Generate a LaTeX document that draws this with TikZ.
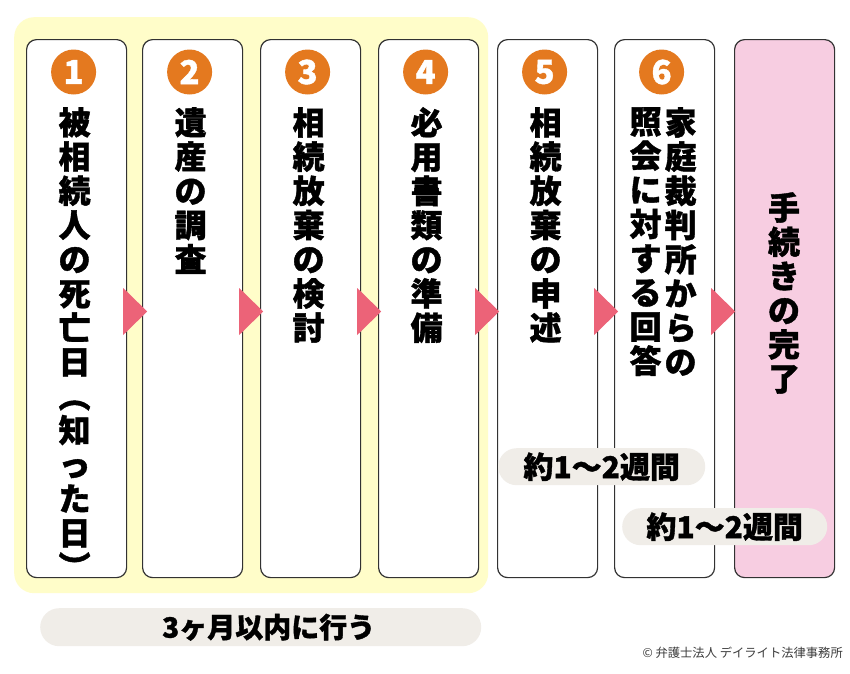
\documentclass[tikz,border=0pt]{standalone}
\usepackage{fontspec}
\newfontfamily\jp{Noto Sans CJK JP}[BoldFeatures={FakeBold=1.2}]
\usetikzlibrary{calc}
\definecolor{bgyellow}{RGB}{255,253,201}
\definecolor{donepink}{RGB}{247,205,225}
\definecolor{arrowpink}{RGB}{236,99,120}
\definecolor{numorange}{RGB}{228,121,31}
\definecolor{pillgray}{RGB}{240,237,232}
\definecolor{linegray}{RGB}{50,50,50}
\definecolor{copygray}{RGB}{60,60,60}
\begin{document}
\begin{tikzpicture}[x=1pt,y=-1pt,
  box/.style={draw=linegray, line width=1.2pt, rounded corners=10pt, minimum width=100pt, minimum height=538pt, anchor=north west, inner sep=0pt, fill=white},
  num/.style={circle, fill=numorange, minimum size=45pt, inner sep=0pt, text=white, font=\jp\bfseries\fontsize{33}{33}\selectfont},
  vtext/.style={anchor=north, align=center, inner sep=0pt, font=\jp\bfseries\fontsize{32}{34.2}\selectfont},
  pill/.style={fill=pillgray, rounded corners=18.5pt, inner sep=0pt, anchor=north west},
  pilltext/.style={inner sep=0pt, font=\jp\bfseries\fontsize{30}{30}\selectfont},
  tri/.style={fill=arrowpink}]
\useasboundingbox (0,0) rectangle (850,673);
\fill[white] (0,0) rectangle (850,673);
% yellow zone
\node[fill=bgyellow, rounded corners=20pt, minimum width=474pt, minimum height=576pt, anchor=north west, inner sep=0pt] (zone) at (14,17) {};
% boxes
\node[box] (b1) at (26,39) {};
\node[box] (b2) at (142,39) {};
\node[box] (b3) at (260,39) {};
\node[box] (b4) at (378,39) {};
\node[box] (b5) at (497,39) {};
\node[box] (b6) at (614,39) {};
\node[box, fill=donepink] (b7) at (734,39) {};
% triangles
\foreach \b in {b1,b2,b3,b4,b5,b6}{
  \fill[tri] ($(\b.north east)+(-4,249)$) -- ++(24,23.5) -- ++(-24,23.5) -- cycle;
}
% numbers
\node[num] (n1) at ($(b1.north)+(-3,33)$) {1};
\node[num] (n2) at ($(b2.north)+(-3,33)$) {2};
\node[num] (n3) at ($(b3.north)+(-3,33)$) {3};
\node[num] (n4) at ($(b4.north)+(-3,33)$) {4};
\node[num] (n5) at ($(b5.north)+(-3,33)$) {5};
\node[num] (n6) at ($(b6.north)+(-3,33)$) {6};
% vertical texts
\node[vtext] (t1) at ($(b1.north)+(-2,68)$) {被\\相\\続\\人\\の\\死\\亡\\日\\︵\\知\\っ\\た\\日\\︶};
\node[vtext] (t2) at ($(b2.north)+(-2,68)$) {遺\\産\\の\\調\\査};
\node[vtext] (t3) at ($(b3.north)+(-2,68)$) {相\\続\\放\\棄\\の\\検\\討};
\node[vtext] (t4) at ($(b4.north)+(-2,68)$) {必\\用\\書\\類\\の\\準\\備};
\node[vtext] (t5) at ($(b5.north)+(-2,68)$) {相\\続\\放\\棄\\の\\申\\述};
\node[vtext] (t6a) at ($(b6.north)+(16,68)$) {家\\庭\\裁\\判\\所\\か\\ら\\の};
\node[vtext] (t6b) at ($(b6.north)+(-19,68)$) {照\\会\\に\\対\\す\\る\\回\\答};
\node[vtext, anchor=center] (t7) at (784,293) {手\\続\\き\\の\\完\\了};
% time pills
\node[pill, minimum width=207pt, minimum height=37pt] (p1) at (498,448) {};
\node[pilltext] (p1t) at (p1.center) {約1〜2週間};
\node[pill, minimum width=205pt, minimum height=37pt] (p2) at (622,508) {};
\node[pilltext] (p2t) at (p2.center) {約1〜2週間};
\node[pill, minimum width=441pt, minimum height=38pt, rounded corners=19pt] (p3) at (40,608) {};
\node[pilltext, font=\jp\bfseries\fontsize{28}{28}\selectfont] (p3t) at ($(p3.center)+(8,0)$) {3ヶ月以内に行う};
% copyright
\node[anchor=east, inner sep=0pt, text=copygray, font=\jp\fontsize{12.3}{12.3}\selectfont] (copy) at (843,653) {© 弁護士法人 デイライト法律事務所};
\end{tikzpicture}
\end{document}
